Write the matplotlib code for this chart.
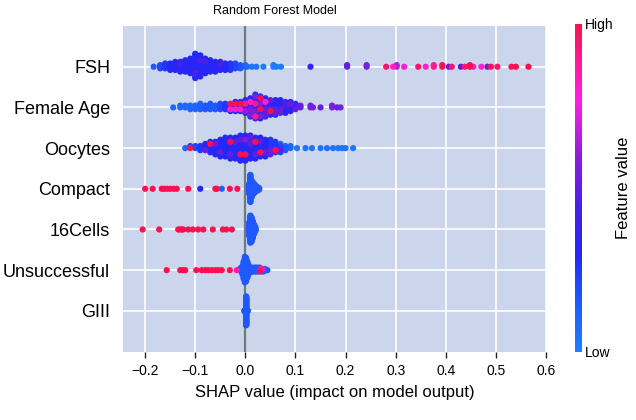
import numpy as np
import matplotlib
matplotlib.use("Agg")
import matplotlib.pyplot as plt
from matplotlib.colors import LinearSegmentedColormap
from matplotlib.cm import ScalarMappable
from matplotlib.colors import Normalize

plt.rcParams['font.family'] = ['Liberation Sans', 'DejaVu Sans']

# features, top to bottom
features = ["FSH", "Female Age", "Oocytes", "Compact", "16Cells", "Unsuccessful", "GIII"]

# each feature: shap values, how many samples sit at that value, normalised feature value
fsh_shap = [-0.183, -0.17, -0.16, -0.15, -0.14, -0.13, -0.13, -0.12, -0.11, -0.10, -0.10, -0.09, -0.09,
            -0.08, -0.08, -0.07, -0.06, -0.05, -0.05, -0.04, -0.03, -0.02, -0.01, 0.0,
            0.004, 0.013, 0.022, 0.036, 0.056, 0.062, 0.071, 0.13, 0.203, 0.242, 0.281, 0.295, 0.302,
            0.317, 0.345, 0.36, 0.376, 0.393, 0.406, 0.412, 0.43, 0.438, 0.448, 0.455, 0.471, 0.483,
            0.49, 0.503, 0.531, 0.54, 0.565]
fsh_count = [1, 3, 4, 5, 6, 6, 1, 8, 10, 15, 1, 13, 1, 9, 1, 8, 7, 5, 1, 5, 5, 4, 3, 2,
             1, 1, 1, 1, 2, 1, 1, 1, 2, 2, 1, 1, 2, 1, 1, 1, 2, 2, 1, 1, 1, 1, 2, 1, 1, 1,
             1, 1, 1, 1, 1]
fsh_feat = [0.15, 0.2, 0.25, 0.3, 0.3, 0.3, 0.45, 0.3, 0.3, 0.3, 0.45, 0.3, 0.45, 0.3, 0.45, 0.3, 0.3,
            0.3, 0.45, 0.3, 0.25, 0.2, 0.15, 0.1,
            0.05, 0.05, 0.05, 0.03, 0.03, 0.03, 0.03, 0.35, 0.5, 0.55, 0.95, 0.8, 0.65, 0.8, 0.95,
            0.8, 0.9, 1.0, 0.5, 0.95, 0.5, 0.95, 1.0, 0.8, 0.8, 0.5, 1.0, 0.95, 1.0, 1.0, 1.0]

age_shap = [-0.144, -0.13, -0.12, -0.11, -0.10, -0.09, -0.08, -0.07, -0.06, -0.05,
            -0.04, -0.04, -0.03, -0.03, -0.03, -0.02, -0.02, -0.02, -0.01, -0.01, -0.01,
            0.0, 0.0, 0.0, 0.01, 0.01, 0.01, 0.02, 0.02, 0.02, 0.03, 0.03, 0.03, 0.04, 0.04, 0.04,
            0.05, 0.05, 0.05, 0.06, 0.06, 0.06, 0.07, 0.07, 0.08, 0.08, 0.09, 0.09, 0.10, 0.10,
            0.11, 0.13, 0.135, 0.15, 0.173, 0.183, 0.19]
age_count = [1, 2, 2, 3, 3, 4, 3, 4, 3, 4,
             4, 0, 3, 1, 1, 4, 1, 1, 4, 1, 1,
             6, 1, 1, 8, 1, 2, 10, 2, 2, 9, 2, 2, 8, 1, 2,
             6, 1, 2, 7, 0, 2, 6, 2, 5, 2, 5, 1, 3, 1,
             2, 2, 1, 1, 2, 1, 1]
age_feat = [0.1, 0.1, 0.1, 0.1, 0.1, 0.12, 0.15, 0.15, 0.15, 0.2,
            0.25, 0.75, 0.3, 0.8, 1.0, 0.3, 0.75, 1.0, 0.35, 0.8, 1.0,
            0.35, 0.9, 0.6, 0.3, 0.8, 0.55, 0.3, 0.9, 0.55, 0.3, 1.0, 0.55, 0.35, 0.8, 0.5,
            0.3, 1.0, 0.5, 0.3, 0.9, 0.5, 0.3, 0.5, 0.3, 0.45, 0.3, 0.5, 0.4, 0.5,
            0.5, 0.55, 0.55, 0.5, 0.55, 0.5, 0.55]

ooc_shap = [-0.12, -0.11, -0.11, -0.10, -0.09, -0.08, -0.08, -0.07, -0.07, -0.06, -0.06,
            -0.05, -0.05, -0.04, -0.04, -0.03, -0.03, -0.03, -0.02, -0.02, -0.02,
            -0.01, -0.01, -0.01, 0.0, 0.0, 0.0, 0.01, 0.01, 0.01, 0.02, 0.02, 0.02,
            0.03, 0.03, 0.03, 0.04, 0.04, 0.04, 0.05, 0.05, 0.06, 0.06, 0.06, 0.07, 0.07, 0.07,
            0.08, 0.08, 0.09, 0.103, 0.12, 0.133, 0.15, 0.163, 0.175, 0.185, 0.193, 0.2, 0.215]
ooc_count = [1, 1, 1, 2, 3, 3, 1, 5, 1, 6, 1,
             8, 1, 10, 0, 9, 1, 1, 10, 0, 1,
             11, 1, 1, 11, 1, 1, 10, 0, 2, 9, 1, 1,
             8, 1, 1, 8, 0, 1, 6, 2, 4, 1, 1, 3, 1, 1,
             2, 1, 2, 1, 1, 1, 1, 1, 1, 1, 1, 1, 1]
ooc_feat = [0.1, 1.0, 0.2, 0.2, 0.25, 0.3, 0.5, 0.3, 1.0, 0.3, 0.5,
            0.3, 0.5, 0.3, 0.9, 0.3, 1.0, 0.5, 0.3, 0.8, 0.5,
            0.3, 1.0, 0.5, 0.3, 1.0, 0.55, 0.3, 0.9, 0.5, 0.3, 1.0, 0.5,
            0.3, 1.0, 0.5, 0.3, 0.9, 0.5, 0.25, 0.5, 0.25, 1.0, 0.1, 0.2, 0.5, 0.1,
            0.15, 0.1, 0.1, 0.05, 0.05, 0.05, 0.05, 0.05, 0.05, 0.05, 0.05, 0.05, 0.05]

cmp_shap = [-0.2, -0.185, -0.167, -0.162, -0.156, -0.15, -0.143, -0.137, -0.114, -0.09,
            -0.06, -0.057, -0.047, -0.031, -0.016,
            0.0075, 0.01, 0.0125, 0.015, 0.0175, 0.02, 0.0225, 0.025, 0.0275]
cmp_count = [1, 1, 1, 1, 1, 1, 1, 1, 1, 1, 1, 1, 1, 1, 1,
             15, 40, 25, 18, 14, 10, 7, 5, 3]
cmp_feat = [1, 1, 1, 1, 1, 1, 1, 1, 1, 0.3, 1, 1, 0.12, 1, 1,
            0.15, 0.15, 0.15, 0.15, 0.15, 0.15, 0.15, 0.15, 0.15]

c16_shap = [-0.205, -0.172, -0.134, -0.130, -0.127, -0.124, -0.114, -0.105, -0.094, -0.084,
            -0.065, -0.045, -0.038, -0.027,
            0.0075, 0.01, 0.0125, 0.015, 0.0175, 0.02]
c16_count = [1, 1, 1, 1, 1, 1, 1, 1, 1, 1, 1, 1, 1, 1,
             20, 40, 35, 25, 14, 6]
c16_feat = [1, 1, 1, 1, 1, 1, 1, 1, 1, 1, 1, 1, 1, 1,
            0.15, 0.15, 0.15, 0.15, 0.15, 0.15]

uns_shap = [-0.157, -0.130, -0.125, -0.120, -0.098, -0.087, -0.080, -0.074, -0.067, -0.060,
            -0.054, -0.047, -0.031, -0.017,
            -0.011, -0.0085, -0.006, -0.0035, -0.001, 0.0015, 0.004, 0.0065, 0.009, 0.0115,
            0.014, 0.0165, 0.019, 0.0215, 0.024, 0.0265,
            0.029, 0.029, 0.0315, 0.0315, 0.034, 0.034, 0.0365, 0.039, 0.0415, 0.044]
uns_count = [1, 1, 1, 1, 1, 1, 1, 1, 1, 1, 1, 1, 1, 1,
             2, 4, 7, 15, 22, 20, 14, 8, 5, 4, 4, 4, 4, 4, 4, 4,
             3, 1, 2, 1, 2, 1, 3, 2, 1, 1]
uns_feat = [1, 1, 1, 1, 1, 1, 1, 1, 1, 1, 1, 1, 1, 0.85,
            0.15, 0.15, 0.15, 0.15, 0.15, 0.15, 0.15, 0.15, 0.15, 0.15, 0.15, 0.15, 0.15, 0.15,
            0.15, 0.15,
            0.15, 1.0, 0.15, 0.9, 0.15, 0.75, 0.15, 0.15, 0.15, 0.15]

g3_shap = [-0.0015, 0.0, 0.0015, 0.003, 0.0045]
g3_count = [5, 10, 125, 8, 4]
g3_feat = [0.15, 0.15, 0.15, 0.15, 0.15]

rows = [(fsh_shap, fsh_count, fsh_feat), (age_shap, age_count, age_feat),
        (ooc_shap, ooc_count, ooc_feat), (cmp_shap, cmp_count, cmp_feat),
        (c16_shap, c16_count, c16_feat), (uns_shap, uns_count, uns_feat),
        (g3_shap, g3_count, g3_feat)]

xticks = [-0.2, -0.1, 0.0, 0.1, 0.2, 0.3, 0.4, 0.5, 0.6]

cmap = LinearSegmentedColormap.from_list("shap_like", [
    (0.0, "#1f80ff"), (0.15, "#1f58ff"), (0.3, "#2626f6"), (0.45, "#4c1fe6"),
    (0.6, "#8c1fd8"), (0.7, "#d21fdc"), (0.77, "#ff1ee0"), (0.88, "#ff1a9a"),
    (1.0, "#ff0f50")])


def expand(shap, count, feat):
    vals, cols, keys = [], [], []
    for v, n, f in zip(shap, count, feat):
        for k in range(n):
            vals.append(v)
            cols.append(f)
            keys.append((k + 0.5) / n)  # spreads each group through its bin
    return np.array(vals), np.array(cols), np.array(keys)


def swarm(vals, keys, nbins=100, row_height=0.4):
    # same layering as shap's beeswarm
    quant = np.round(nbins * (vals - vals.min()) / (vals.max() - vals.min() + 1e-8))
    inds = np.argsort(quant + keys * 0.5, kind="stable")
    ys = np.zeros(len(vals))
    layer, last = 0, None
    for i in inds:
        if quant[i] != last:
            layer = 0
        ys[i] = np.ceil(layer / 2) * ((layer % 2) * 2 - 1)
        layer += 1
        last = quant[i]
    ys *= 0.9 * (row_height / np.max(ys + 1))
    return ys


fig = plt.figure(figsize=(6.36, 4.2), dpi=100)
ax = fig.add_axes([0.193, 0.163, 0.6655, 0.775])
ax.set_facecolor("#cbd5ec")
for s in ax.spines.values():
    s.set_visible(False)

n = len(features)
for x in xticks:
    ax.axvline(x, color="white", lw=1.2, zorder=0)
for i in range(n):
    ax.axhline(i, color="white", lw=1.2, zorder=0)
ax.axvline(0, color="#6e7b7c", lw=1.6, zorder=1)

for i, (shap, count, feat) in enumerate(rows):
    pos = n - 1 - i
    vals, cols, keys = expand(shap, count, feat)
    ys = swarm(vals, keys)
    order = np.argsort(cols, kind="stable")
    ax.scatter(vals[order], pos + ys[order], c=cols[order], cmap=cmap, vmin=0, vmax=1,
               s=20, linewidths=0, zorder=3)

ax.set_xlim(-0.2447, 0.6)
ax.set_ylim(-1, n)
ax.set_xticks(xticks)
ax.set_xticklabels(["\u22120.2", "\u22120.1", "0.0", "0.1", "0.2", "0.3", "0.4", "0.5", "0.6"])
ax.tick_params(axis="x", length=4, width=1, color="#222222", labelsize=10, pad=5)
ax.set_yticks(range(n))
ax.set_yticklabels(features[::-1], fontsize=13)
ax.tick_params(axis="y", length=0, pad=9)
ax.set_xlabel("SHAP value (impact on model output)", fontsize=12, labelpad=5)

fig.text(275 / 636, 1 - 11 / 420, "Random Forest Model", ha="center", va="center", fontsize=9)

cax = fig.add_axes([0.904, 0.162, 0.011, 0.781])
cb = fig.colorbar(ScalarMappable(norm=Normalize(0, 1), cmap=cmap), cax=cax, ticks=[0, 1])
cb.set_ticklabels(["Low", "High"])
cb.ax.tick_params(length=0, labelsize=10, pad=2)
cb.outline.set_visible(False)
cb.set_label("Feature value", fontsize=12, labelpad=2)

fig.savefig("out.png", dpi=100)
